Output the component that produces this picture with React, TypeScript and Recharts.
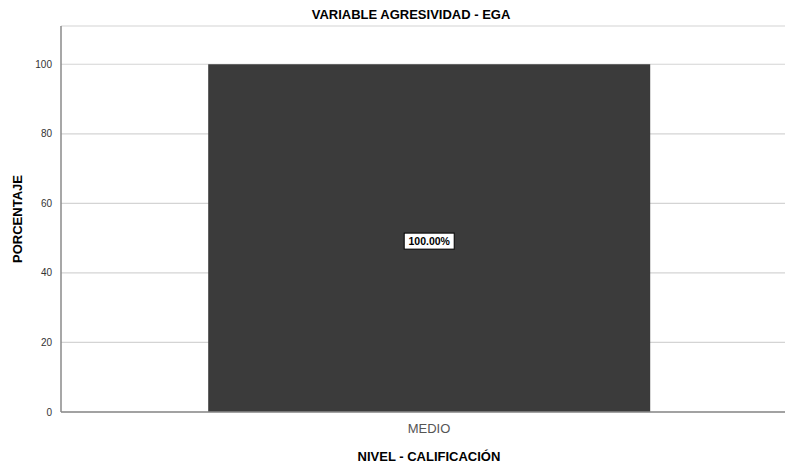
import React from 'react';
import { BarChart, Bar, XAxis, YAxis, CartesianGrid, LabelList } from 'recharts';

const categories = ['MEDIO'];
const percentages = [100];
const yTicks = [0, 20, 40, 60, 80, 100];

const data = categories.map((name, i) => ({ name, value: percentages[i] }));

const BoxLabel = (props: any) => {
  const { x, y, width, height, value } = props;
  const cx = x + width / 2;
  const cy = y + height / 2 + 3;
  const w = 50;
  const h = 16;
  return (
    <g>
      <rect x={cx - w / 2} y={cy - h / 2} width={w} height={h} fill="#ffffff" stroke="#000000" strokeWidth={1} />
      <text x={cx} y={cy + 4} textAnchor="middle" fontSize={10.5} fontWeight="bold" fill="#000000" fontFamily="'Liberation Sans', Arial, sans-serif">
        {`${Number(value).toFixed(2)}%`}
      </text>
    </g>
  );
};

const App: React.FC = () => {
  return (
    <div style={{ position: 'absolute', left: 0, top: 0, width: 785, height: 468, overflow: 'hidden', background: '#fff', fontFamily: "'Liberation Sans', Arial, sans-serif" }}>
      <div style={{ position: 'absolute', left: 0, top: 7, width: 822, textAlign: 'center', fontSize: 13, fontWeight: 'bold', color: '#000' }}>
        VARIABLE AGRESIVIDAD - EGA
      </div>
      <BarChart width={800} height={468} data={data} margin={{ top: 26, right: 3, bottom: 0, left: 0 }} barCategoryGap="20%">
        <CartesianGrid vertical={false} stroke="#d4d4d4" strokeWidth={1.2} />
        <XAxis
          dataKey="name"
          height={56}
          tickLine={false}
          axisLine={{ stroke: '#8a8a8a', strokeWidth: 1.5 }}
          tick={{ fontSize: 13, fill: '#555555' }}
          tickMargin={6}
          label={{ value: 'NIVEL - CALIFICACIÓN', position: 'insideBottom', offset: 7, fontSize: 13, fontWeight: 'bold', fill: '#000' }}
        />
        <YAxis
          width={61}
          domain={[0, 111]}
          ticks={yTicks}
          tickLine={false}
          tickSize={6}
          tickMargin={3}
          axisLine={{ stroke: '#8a8a8a', strokeWidth: 1.5 }}
          tick={{ fontSize: 10, fill: '#333333' }}
          label={{ value: 'PORCENTAJE', angle: -90, position: 'insideLeft', offset: 17, fontSize: 13, fontWeight: 'bold', fill: '#000', style: { textAnchor: 'middle' } }}
        />
        <Bar dataKey="value" fill="#3b3b3b" isAnimationActive={false}>
          <LabelList dataKey="value" content={<BoxLabel />} />
        </Bar>
      </BarChart>
    </div>
  );
};

export default App;
